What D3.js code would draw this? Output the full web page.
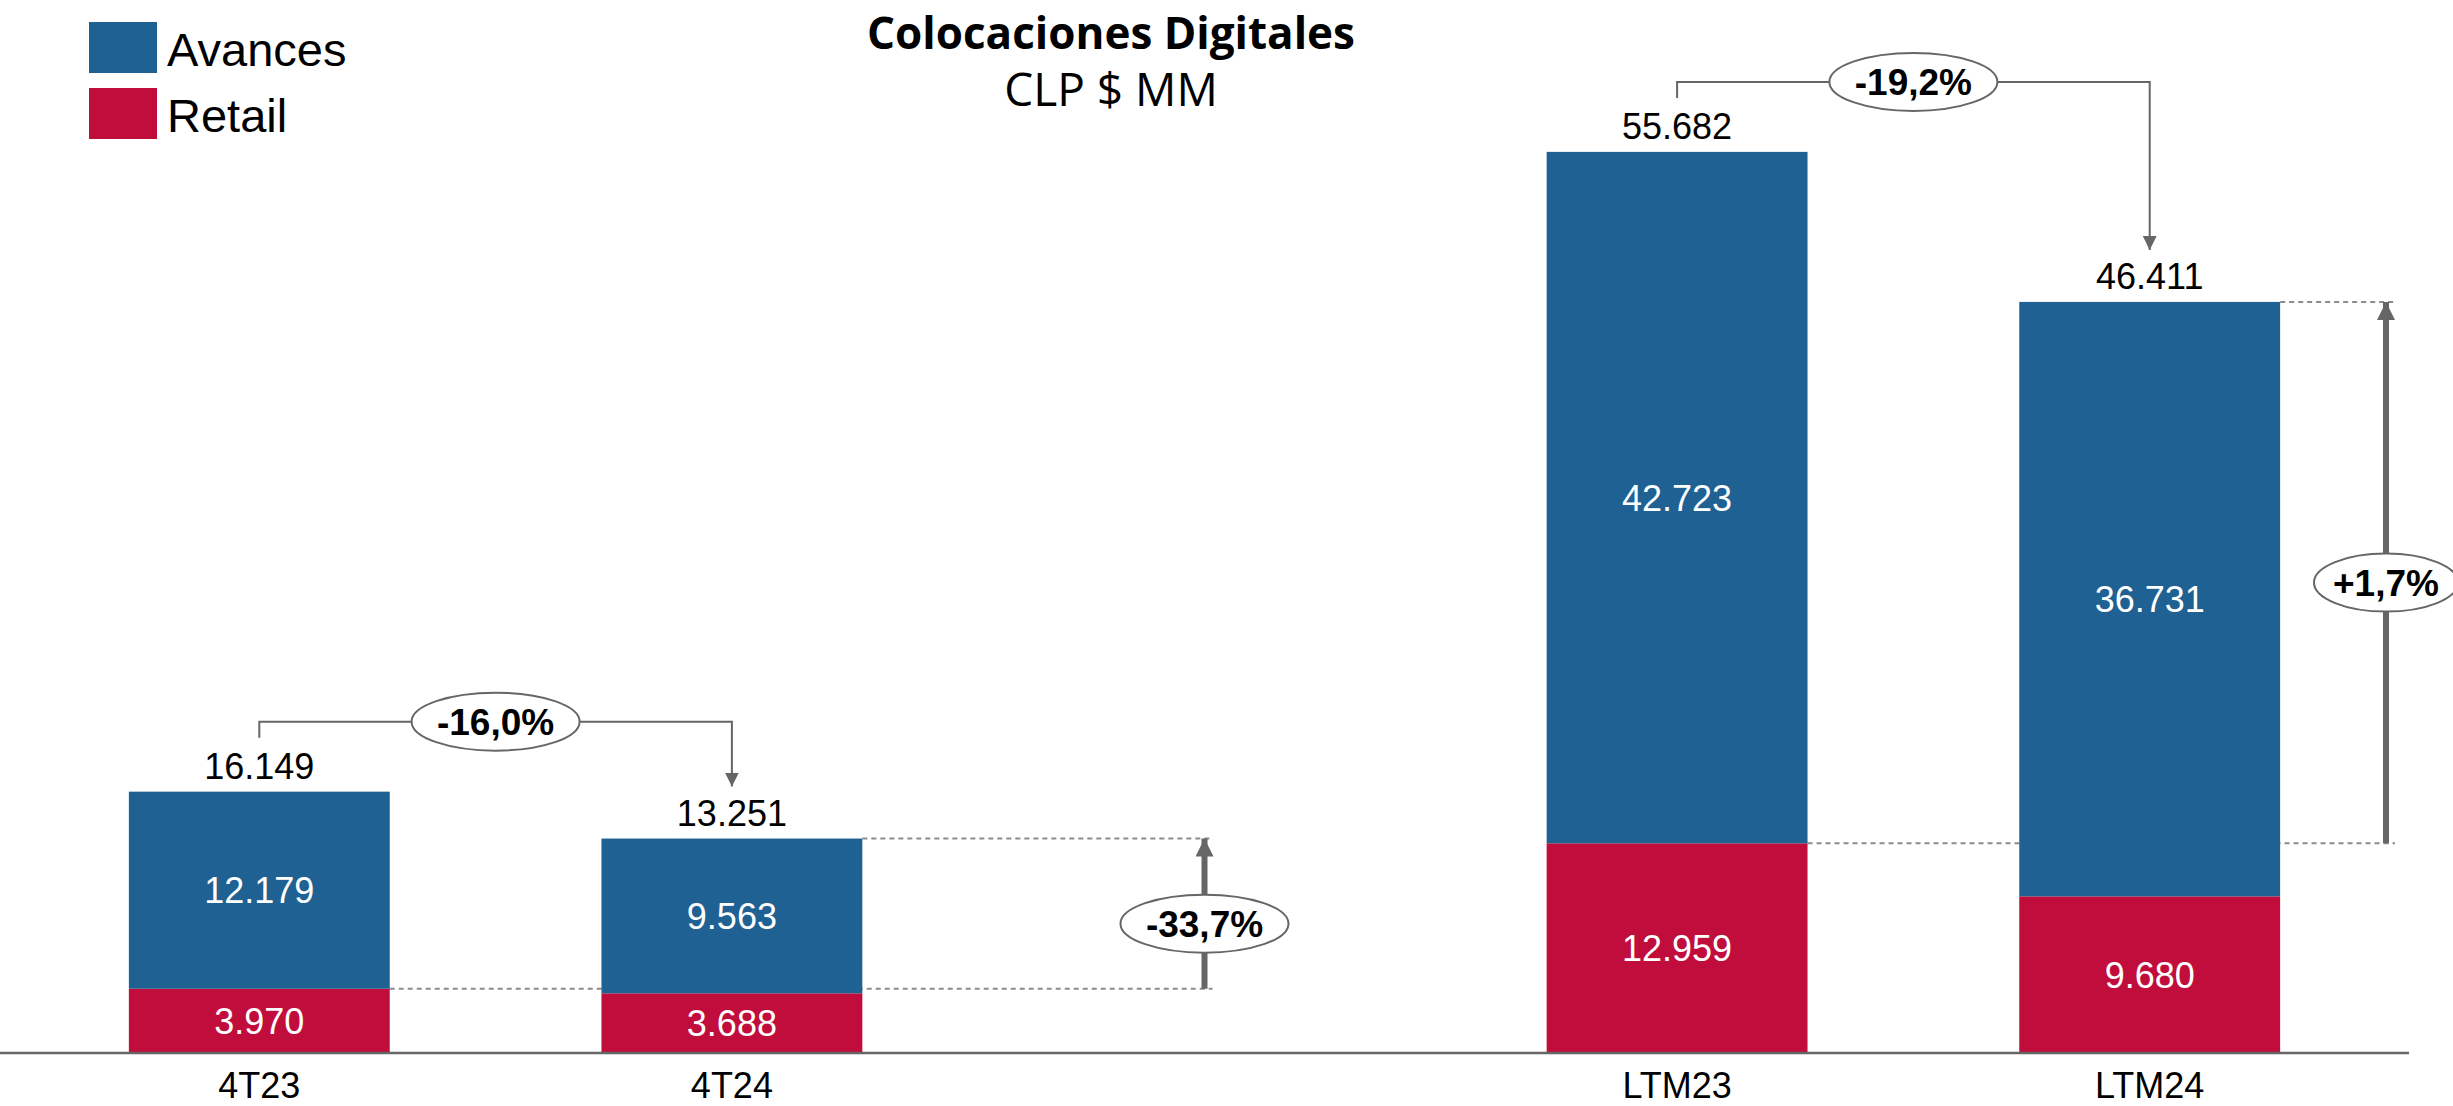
<!DOCTYPE html>
<html>
<head>
<meta charset="utf-8">
<script src="https://cdn.jsdelivr.net/npm/d3@7"></script>
<style>
    body { margin: 0; background: #fff; }
    svg { display: block; }
</style>
</head>
<body>
<svg id="chart" width="2453" height="1106"></svg>
<script>
const categories = ["4T23", "4T24", "LTM23", "LTM24"];
const slots = ["4T23", "4T24", "gap", "LTM23", "LTM24"];
const avances = [12179, 9563, 42723, 36731];
const retail = [3970, 3688, 12959, 9680];
const totals = [16149, 13251, 55682, 46411];

// bracket arrows between periods
const bracketFrom = ["4T23", "LTM23"];
const bracketTo = ["4T24", "LTM24"];
const bracketLabels = ["-16,0%", "-19,2%"];

// vertical arrows (retail of first period -> total of second)
const riseLabels = ["-33,7%", "+1,7%"];

const blue = "#1F6192";
const red = "#C10D3C";
const grey = "#666666";

const svg = d3.select("#chart");

const es = d3.formatLocale({decimal: ",", thousands: ".", grouping: [3], currency: ["$", ""]});
const fmt = es.format(",d");

const x = d3.scaleBand()
    .domain(slots)
    .range([23, 2386])
    .paddingInner(0.448)
    .paddingOuter(0.224);

const y = d3.scaleLinear()
    .domain([0, 60000])
    .range([1053, 82]);

const bw = x.bandwidth();
const cx = c => x(c) + bw / 2;

const rows = categories.map((c, i) => ({cat: c, avances: avances[i], retail: retail[i], total: totals[i]}));

// arrow heads
const defs = svg.append("defs");
defs.append("marker")
    .attr("id", "headThin")
    .attr("viewBox", "0 0 10 10")
    .attr("refX", 10).attr("refY", 5)
    .attr("markerUnits", "userSpaceOnUse")
    .attr("markerWidth", 14).attr("markerHeight", 14)
    .attr("orient", "auto")
    .append("path")
    .attr("d", "M0,0 L10,5 L0,10 Z")
    .attr("fill", grey);

defs.append("marker")
    .attr("id", "headThick")
    .attr("viewBox", "0 0 10 10")
    .attr("refX", 10).attr("refY", 5)
    .attr("markerUnits", "userSpaceOnUse")
    .attr("markerWidth", 18).attr("markerHeight", 18)
    .attr("orient", "auto")
    .append("path")
    .attr("d", "M0,0 L10,5 L0,10 Z")
    .attr("fill", grey);

// dashed guide lines (behind bars)
const arrowX = [x("gap") + bw / 2, x.range()[1]];
const guides = [
    {y: y(retail[0]), x1: x("4T23") + bw, x2: arrowX[0] + 8},
    {y: y(totals[1]), x1: x("4T24") + bw, x2: arrowX[0] + 8},
    {y: y(retail[2]), x1: x("LTM23") + bw, x2: arrowX[1] + 9},
    {y: y(totals[3]), x1: x("LTM24") + bw, x2: arrowX[1] + 9}
];
svg.selectAll(".guide")
    .data(guides)
    .enter()
    .append("line")
    .attr("class", "guide")
    .attr("x1", d => d.x1).attr("x2", d => d.x2)
    .attr("y1", d => d.y).attr("y2", d => d.y)
    .attr("stroke", "#8c8c8c")
    .attr("stroke-width", 2)
    .attr("stroke-dasharray", "5,4");

// stacked bars
const bars = svg.selectAll(".bar")
    .data(rows)
    .enter()
    .append("g")
    .attr("class", "bar");

bars.append("rect")
    .attr("x", d => x(d.cat))
    .attr("y", d => y(d.retail))
    .attr("width", bw)
    .attr("height", d => y(0) - y(d.retail))
    .attr("fill", red);

bars.append("rect")
    .attr("x", d => x(d.cat))
    .attr("y", d => y(d.retail + d.avances))
    .attr("width", bw)
    .attr("height", d => y(d.retail) - y(d.retail + d.avances))
    .attr("fill", blue);

const numFont = "'Liberation Sans', Arial, sans-serif";

bars.append("text")
    .attr("x", d => cx(d.cat))
    .attr("y", d => (y(d.retail) + y(0)) / 2 + 13)
    .attr("text-anchor", "middle")
    .attr("font-family", numFont)
    .attr("font-size", 36)
    .attr("fill", "white")
    .text(d => fmt(d.retail));

bars.append("text")
    .attr("x", d => cx(d.cat))
    .attr("y", d => (y(d.retail) + y(d.retail + d.avances)) / 2 + 13)
    .attr("text-anchor", "middle")
    .attr("font-family", numFont)
    .attr("font-size", 36)
    .attr("fill", "white")
    .text(d => fmt(d.avances));

bars.append("text")
    .attr("x", d => cx(d.cat))
    .attr("y", d => y(d.total) - 13)
    .attr("text-anchor", "middle")
    .attr("font-family", numFont)
    .attr("font-size", 36)
    .attr("fill", "black")
    .text(d => fmt(d.total));

// baseline + category labels
svg.append("line")
    .attr("x1", 0).attr("x2", 2409)
    .attr("y1", y(0)).attr("y2", y(0))
    .attr("stroke", grey)
    .attr("stroke-width", 2.5);

svg.selectAll(".catLabel")
    .data(categories)
    .enter()
    .append("text")
    .attr("class", "catLabel")
    .attr("x", d => cx(d))
    .attr("y", 1098)
    .attr("text-anchor", "middle")
    .attr("font-family", numFont)
    .attr("font-size", 36)
    .attr("fill", "black")
    .text(d => d);

function badge(px, py, rx, label) {
    const g = svg.append("g");
    g.append("ellipse")
        .attr("cx", px).attr("cy", py)
        .attr("rx", rx).attr("ry", 29)
        .attr("fill", "white")
        .attr("stroke", grey)
        .attr("stroke-width", 2);
    g.append("text")
        .attr("x", px).attr("y", py + 13)
        .attr("text-anchor", "middle")
        .attr("font-family", numFont)
        .attr("font-weight", "bold")
        .attr("font-size", 37)
        .attr("fill", "black")
        .text(label);
}

// bracket arrows
bracketFrom.forEach((from, i) => {
    const to = bracketTo[i];
    const t0 = totals[categories.indexOf(from)];
    const t1 = totals[categories.indexOf(to)];
    const hy = y(t0) - 70;
    svg.append("path")
        .attr("d", `M${cx(from)},${y(t0) - 54} V${hy} H${cx(to)} V${y(t1) - 52}`)
        .attr("fill", "none")
        .attr("stroke", grey)
        .attr("stroke-width", 2)
        .attr("marker-end", "url(#headThin)");
    badge((cx(from) + cx(to)) / 2, hy, 84, bracketLabels[i]);
});

// vertical change arrows
const riseFrom = [retail[0], retail[2]];
const riseTo = [totals[1], totals[3]];
const riseRx = [84, 72];
riseLabels.forEach((label, i) => {
    const y0 = y(riseFrom[i]);
    const y1 = y(riseTo[i]);
    svg.append("line")
        .attr("x1", arrowX[i]).attr("x2", arrowX[i])
        .attr("y1", y0).attr("y2", y1)
        .attr("stroke", grey)
        .attr("stroke-width", 6)
        .attr("marker-end", "url(#headThick)");
    badge(arrowX[i], (y0 + y1) / 2 + 10, riseRx[i], label);
});

// legend
const legendNames = ["Avances", "Retail"];
const legendColors = [blue, red];
const legend = svg.selectAll(".legend")
    .data(legendNames)
    .enter()
    .append("g")
    .attr("class", "legend")
    .attr("transform", (d, i) => `translate(89, ${22 + i * 66})`);

legend.append("rect")
    .attr("width", 68)
    .attr("height", 51)
    .attr("fill", (d, i) => legendColors[i]);

legend.append("text")
    .attr("x", 78)
    .attr("y", 44)
    .attr("font-family", numFont)
    .attr("font-size", 47)
    .attr("fill", "black")
    .text(d => d);

// title
svg.append("text")
    .attr("x", 1111).attr("y", 49)
    .attr("text-anchor", "middle")
    .attr("font-family", "'Open Sans', sans-serif")
    .attr("font-weight", "bold")
    .attr("font-size", 44)
    .text("Colocaciones Digitales");

svg.append("text")
    .attr("x", 1111).attr("y", 106)
    .attr("text-anchor", "middle")
    .attr("font-family", "'Open Sans', sans-serif")
    .attr("font-size", 46)
    .text("CLP $ MM");
</script>
</body>
</html>
